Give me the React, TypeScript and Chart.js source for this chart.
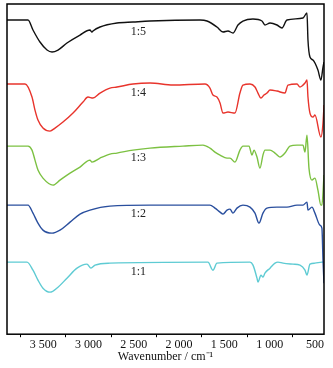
import React, { useEffect, useRef } from 'react';
import { Chart, registerables } from 'chart.js';

Chart.register(...registerables);

// Wavenumbers (cm^-1) and offset transmittance (arbitrary units) for each ratio
const wn15 = [3900, 3668, 3613, 3536, 3458, 3403, 3337, 3238, 3094, 2984, 2962, 2951, 2873, 2686, 2509, 2321, 1769, 1692, 1582, 1515, 1460, 1405, 1350, 1295, 1184, 1085, 1052, 996, 919, 864, 809, 632, 588, 577, 555, 522, 467, 434, 411, 400];
const t15 = [314, 314, 304, 292, 284, 282, 284, 291, 299, 304, 302, 303, 307, 311, 312, 313, 314, 313, 307, 302, 303, 301, 309, 313, 315, 313, 309, 311, 309, 306, 314, 316, 321, 294, 277, 274, 264, 254, 267, 272];

const wn14 = [3900, 3701, 3624, 3591, 3558, 3503, 3425, 3370, 3282, 3171, 3061, 3006, 2951, 2873, 2763, 2686, 2509, 2321, 2067, 1714, 1659, 1626, 1582, 1548, 1515, 1460, 1383, 1328, 1295, 1217, 1162, 1129, 1096, 1063, 1030, 996, 919, 831, 798, 698, 665, 643, 610, 588, 577, 555, 522, 500, 434, 411, 400];
const t14 = [250, 250, 237, 224, 214, 206, 203, 206, 212, 221, 232, 237, 236, 241, 246, 247, 250, 251, 249, 250, 246, 239, 237, 231, 221, 222, 221, 241, 249, 250, 247, 241, 236, 239, 241, 244, 243, 241, 249, 250, 247, 248, 251, 254, 237, 221, 217, 219, 197, 211, 229];

const wn13 = [3900, 3668, 3624, 3591, 3558, 3503, 3392, 3315, 3204, 3094, 2984, 2962, 2873, 2763, 2686, 2509, 2321, 1957, 1736, 1659, 1604, 1548, 1471, 1438, 1383, 1328, 1295, 1228, 1195, 1173, 1140, 1107, 1074, 1052, 996, 941, 886, 831, 776, 698, 632, 610, 588, 566, 533, 500, 467, 434, 423, 400];
const t13 = [188, 188, 184, 174, 164, 156, 149, 154, 161, 167, 174, 172, 176, 180, 181, 184, 186, 188, 189, 186, 182, 179, 176, 176, 172, 184, 188, 188, 179, 184, 177, 166, 179, 184, 184, 181, 177, 181, 188, 189, 189, 182, 199, 166, 154, 156, 144, 129, 129, 159];

const wn12 = [3900, 3668, 3613, 3558, 3503, 3403, 3315, 3204, 3094, 2984, 2763, 2321, 1659, 1604, 1548, 1515, 1471, 1438, 1405, 1361, 1295, 1217, 1162, 1118, 1074, 1030, 919, 809, 698, 632, 588, 577, 533, 500, 445, 423, 411, 400];
const t12 = [129, 129, 121, 111, 104, 101, 104, 112, 120, 124, 128, 129, 129, 126, 122, 120, 124, 125, 121, 126, 129, 127, 121, 111, 121, 126, 127, 127, 129, 129, 132, 124, 127, 121, 109, 106, 74, 51];

const wn11 = [3900, 3679, 3613, 3558, 3503, 3425, 3337, 3238, 3127, 3017, 2973, 2928, 2763, 1681, 1626, 1582, 1217, 1184, 1140, 1129, 1096, 1074, 1052, 996, 941, 908, 853, 742, 665, 610, 588, 555, 500, 423, 400];
const t11 = [72, 72, 64, 54, 46, 42, 47, 56, 66, 70, 66, 69, 71, 72, 64, 71, 72, 69, 56, 52, 59, 57, 61, 66, 71, 72, 71, 70, 69, 64, 59, 70, 71, 72, 72];

const seriesNames = ['1:5', '1:4', '1:3', '1:2', '1:1'];
const seriesColors = ['#111111', '#e8342c', '#7cc142', '#2a4f9e', '#5ecbd3'];
const labelWavenumber = 2450;
const labelLevels = [302, 241, 176, 120, 62];
const xTickValues = [3750, 3500, 3250, 3000, 2750, 2500, 2250, 2000, 1750, 1500, 1250, 1000, 750, 500];

const fmt = (v: number) =>
  v >= 1000 ? `${Math.floor(v / 1000)} ${String(v % 1000).padStart(3, '0')}` : String(v);

export default function App() {
  const ref = useRef<HTMLCanvasElement>(null);

  useEffect(() => {
    if (!ref.current) return;
    const wns = [wn15, wn14, wn13, wn12, wn11];
    const ts = [t15, t14, t13, t12, t11];
    const datasets = seriesNames.map((name, i) => ({
      label: name,
      data: wns[i].map((w, j) => ({ x: w, y: ts[i][j] })),
      borderColor: seriesColors[i],
      borderWidth: 1.4,
      pointRadius: 0,
      fill: false,
      cubicInterpolationMode: 'monotone' as const,
    }));

    const frame = {
      id: 'frame',
      afterDatasetsDraw(chart: any) {
        const { ctx, chartArea } = chart;
        const { left, top, right, bottom } = chartArea;
        ctx.save();
        ctx.strokeStyle = '#000';
        ctx.lineWidth = 1.5;
        ctx.strokeRect(left, top, right - left, bottom - top);
        ctx.restore();
      },
    };

    const seriesLabels = {
      id: 'seriesLabels',
      afterDatasetsDraw(chart: any) {
        const { ctx, scales } = chart;
        ctx.save();
        ctx.font = '12px "Liberation Serif", serif';
        ctx.fillStyle = '#222';
        ctx.textAlign = 'center';
        ctx.textBaseline = 'middle';
        seriesNames.forEach((name, i) => {
          ctx.fillText(name, scales.x.getPixelForValue(labelWavenumber), scales.y.getPixelForValue(labelLevels[i]));
        });
        ctx.restore();
      },
    };

    const chart = new Chart(ref.current, {
      type: 'line',
      data: { datasets },
      options: {
        animation: false,
        responsive: false,
        layout: { padding: { left: 7, right: 9, top: 4, bottom: 0 } },
        plugins: { legend: { display: false }, tooltip: { enabled: false } },
        scales: {
          x: {
            type: 'linear',
            reverse: true,
            min: 400,
            max: 3900,
            afterBuildTicks: (s: any) => {
              s.ticks = xTickValues.map((v) => ({ value: v }));
            },
            ticks: {
              autoSkip: false,
              maxRotation: 0,
              padding: 0,
              color: '#111',
              font: { family: '"Liberation Serif", serif', size: 12 },
              callback: (v: any) => (Number(v) % 500 === 0 ? fmt(Number(v)) : ''),
            },
            grid: {
              drawOnChartArea: false,
              drawTicks: true,
              tickLength: 3,
              tickWidth: 1,
              color: (c: any) => (c.tick && c.tick.value % 500 === 0 ? 'rgba(0,0,0,0)' : '#000'),
            },
            border: { display: false },
            title: {
              display: true,
              text: 'Wavenumber / cm⁻¹',
              color: '#111',
              font: { family: '"Liberation Serif", serif', size: 12 },
              padding: { top: -2, bottom: 4 },
            },
          },
          y: { display: false, min: 0, max: 330 },
        },
      },
      plugins: [frame, seriesLabels],
    });
    return () => chart.destroy();
  }, []);

  return (
    <div style={{ position: 'absolute', left: 0, top: 0, width: 333, height: 368, background: '#fff' }}>
      <canvas ref={ref} width={333} height={368} style={{ width: 333, height: 368, display: 'block' }} />
    </div>
  );
}
